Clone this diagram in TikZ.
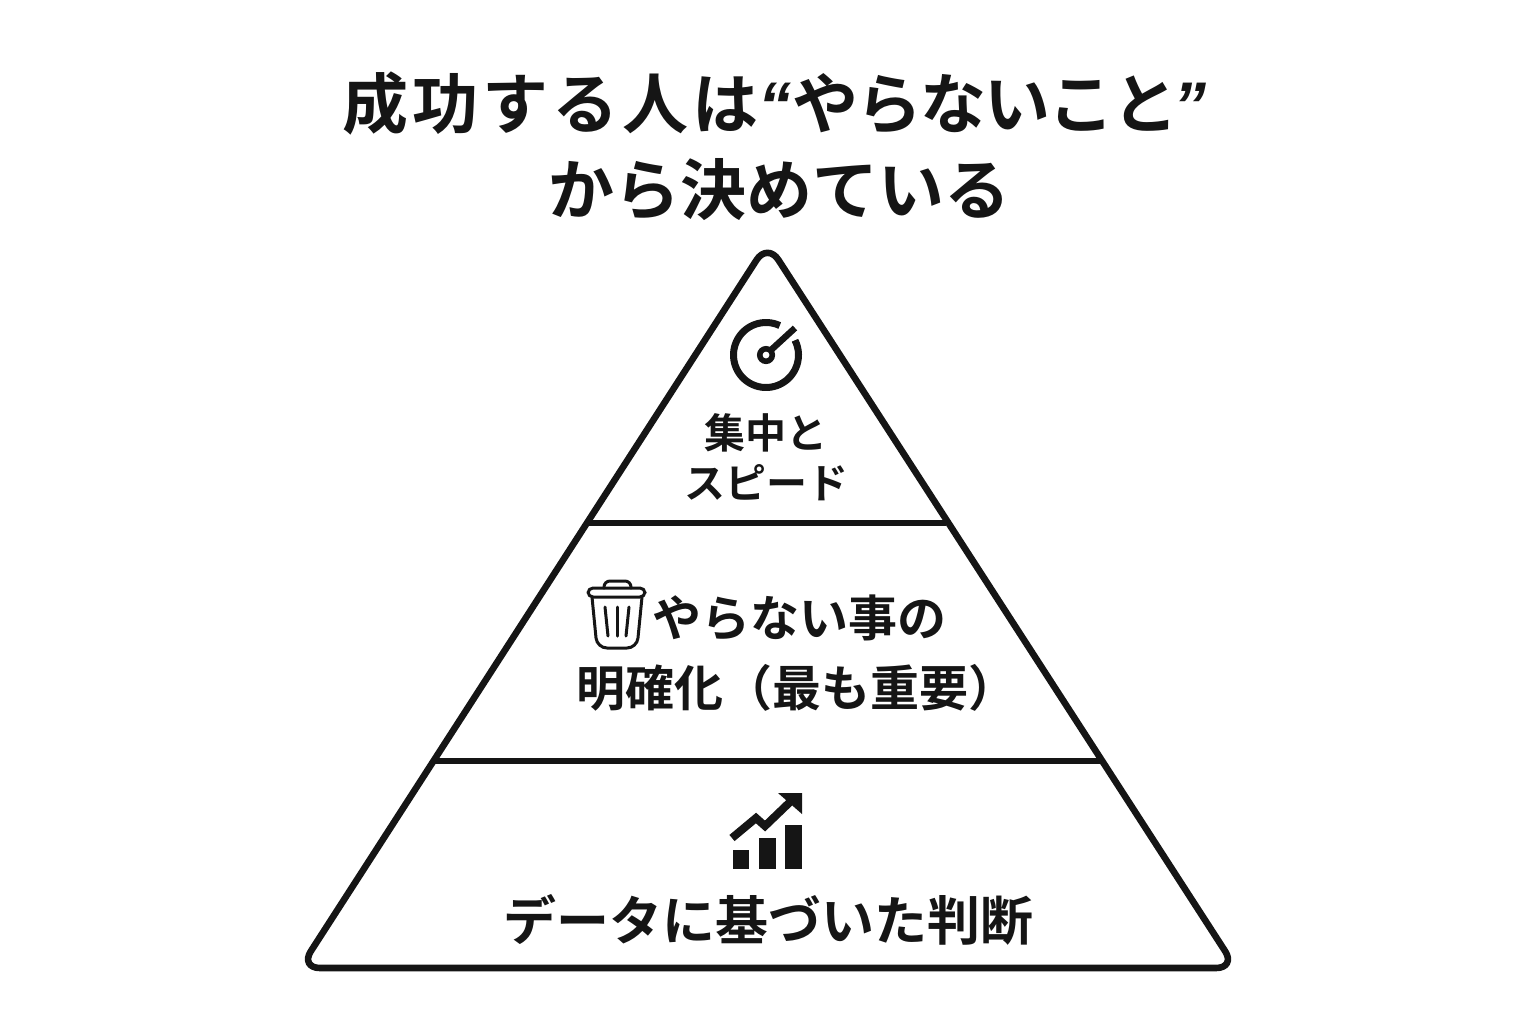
\documentclass[tikz,border=0pt]{standalone}
\usepackage{fontspec}
\setmainfont{Noto Sans CJK JP}[BoldFont={Noto Sans CJK JP Bold}]
\newfontfamily\quotefont{Liberation Sans}
\definecolor{ink}{HTML}{151515}
\newcommand{\openq}{\makebox[17pt][r]{\quotefont\itshape\char"201C\hspace{0.5pt}}}
\newcommand{\closeq}{\hspace{-2.5pt}{\quotefont\itshape\char"201D}}
\tikzset{
  titletext/.style={font=\fontsize{33}{43}\selectfont\bfseries, text=ink, align=center, inner sep=0pt},
  tiertext/.style={text=ink, align=center, inner sep=0pt, font=\bfseries},
  tierline/.style={draw=ink, line width=3.3pt},
  iconline/.style={draw=ink, line width=1.5pt, line cap=round, line join=round}
}
\begin{document}
\begin{tikzpicture}[x=0.5pt, y=-0.5pt]
        \useasboundingbox (0,0) rectangle (1536,1024);

        % Corners of the pyramid
        \coordinate (apex) at (767.5,243);
        \coordinate (baseL) at (300,968);
        \coordinate (baseR) at (1236,968);
        \coordinate (midL) at (589,523);
        \coordinate (midR) at (946,523);
        \coordinate (lowL) at (434,761);
        \coordinate (lowR) at (1101,761);

        % Outline and tiers
        \draw[tierline, line join=round, rounded corners=10pt] (apex) -- (baseR) -- (baseL) -- cycle;
        \draw[tierline] (midL) -- (midR);
        \draw[tierline] (lowL) -- (lowR);

        % Title
        \node[titletext, anchor=west] (title) at (342,104) {{\addfontfeatures{LetterSpace=6}成功する人は}\openq{\addfontfeatures{LetterSpace=-3}やらないこと}\closeq};
        \node[titletext] (subtitle) at (779,190) {から決めている};

        % Tier labels
        \node[tiertext, font=\fontsize{20.5}{25}\selectfont\bfseries] (topLabel) at (766,457) {集中と\\スピード};
        \node[tiertext, font=\fontsize{24.5}{36}\selectfont\bfseries, anchor=west] (midLabelA) at (652,618) {やらない事の};
        \node[tiertext, font=\fontsize{24.5}{36}\selectfont\bfseries] (midLabelB) at (797,688) {明確化（最も重要）};
        \node[tiertext, font=\fontsize{26.5}{36}\selectfont\bfseries] (lowLabel) at (768,920) {データに基づいた判断};

        % Gauge icon
        \draw[ink, line width=3.5pt] (766,355) ++(-65:32.5) arc[start angle=-65, end angle=-387, radius=32.5];
        \draw[ink, line width=2.8pt] (766,355) circle[radius=6.25];
        \draw[ink, line width=3.2pt] (771,350) -- (795,328);

        % Trash icon
        \draw[iconline, rounded corners=2.5pt] (588,588) rectangle (645,597);
        \draw[iconline, rounded corners=3pt] (604,588) -- (604,581) -- (631,581) -- (631,588);
        \draw[iconline, rounded corners=5pt] (592,597) -- (597,648) -- (637,648) -- (642,597);
        \draw[iconline] (605,607) -- (608,636);
        \draw[iconline] (617,607) -- (617,636);
        \draw[iconline] (629,607) -- (626,636);

        % Chart icon
        \fill[ink] (733,850) rectangle (749,869);
        \fill[ink] (759,838) rectangle (776,869);
        \fill[ink] (785,825) rectangle (802,869);
        \draw[ink, line width=4pt, line join=miter] (732,838) -- (756,818) -- (765,826) -- (790,802);
        \fill[ink] (778,793) -- (802,793) -- (802,814) -- cycle;
    \end{tikzpicture}
\end{document}
